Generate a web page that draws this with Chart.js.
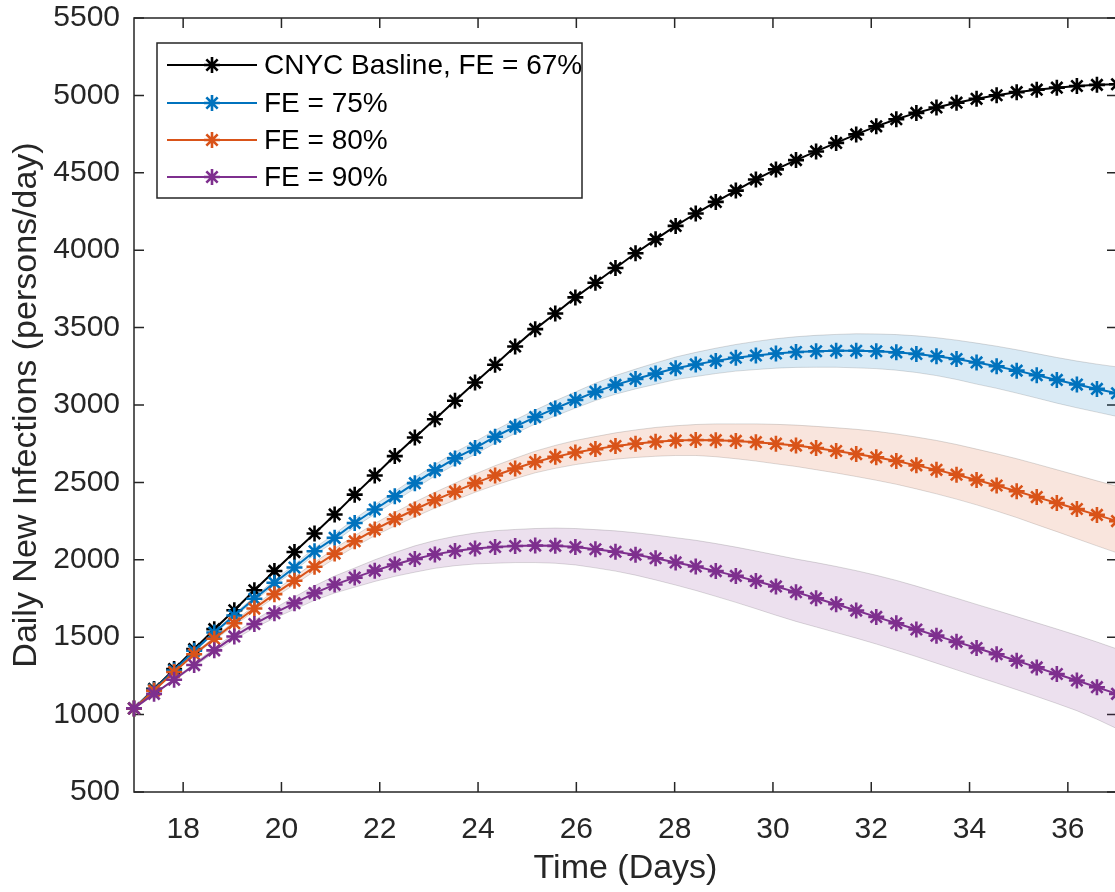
<!DOCTYPE html>
<html>
<head>
<meta charset="utf-8">
<script src="https://cdn.jsdelivr.net/npm/chart.js@4/dist/chart.umd.min.js"></script>
<style>
  html, body { margin: 0; padding: 0; background: #fff; overflow: hidden; width: 1115px; height: 892px; }
  #wrap { width: 1130px; height: 892px; }
</style>
</head>
<body>
<div id="wrap"><canvas id="c" width="1130" height="892"></canvas></div>
<script>
// ---- data ----
const days = [17.000, 17.408, 17.816, 18.224, 18.633, 19.041, 19.449, 19.857, 20.265, 20.673,
              21.082, 21.490, 21.898, 22.306, 22.714, 23.122, 23.531, 23.939, 24.347, 24.755,
              25.163, 25.571, 25.980, 26.388, 26.796, 27.204, 27.612, 28.020, 28.429, 28.837,
              29.245, 29.653, 30.061, 30.469, 30.878, 31.286, 31.694, 32.102, 32.510, 32.918,
              33.327, 33.735, 34.143, 34.551, 34.959, 35.367, 35.776, 36.184, 36.592, 37.000];

const baseline = [1040, 1166, 1294, 1423, 1552, 1674, 1803, 1928, 2050, 2170,
                  2293, 2421, 2545, 2670, 2790, 2908, 3027, 3145, 3260, 3378,
                  3490, 3591, 3695, 3790, 3885, 3980, 4070, 4157, 4237, 4312,
                  4385, 4457, 4522, 4582, 4638, 4693, 4748, 4800, 4846, 4887,
                  4922, 4953, 4978, 5001, 5021, 5037, 5050, 5061, 5068, 5072];

const fe75 = [1040, 1160, 1285, 1412, 1530, 1640, 1748, 1852, 1950, 2055,
              2142, 2238, 2325, 2410, 2495, 2578, 2655, 2722, 2795, 2860,
              2922, 2978, 3032, 3085, 3130, 3168, 3203, 3237, 3262, 3285,
              3305, 3320, 3333, 3342, 3347, 3350, 3350, 3347, 3340, 3330,
              3315, 3297, 3275, 3250, 3222, 3192, 3162, 3132, 3104, 3076];
const fe75Upper = [1040, 1162, 1289, 1418, 1538, 1651, 1762, 1869, 1970, 2077,
                   2167, 2265, 2355, 2442, 2530, 2615, 2695, 2763, 2837, 2904,
                   2967, 3027, 3084, 3141, 3190, 3232, 3272, 3310, 3340, 3367,
                   3391, 3411, 3428, 3441, 3450, 3456, 3460, 3459, 3455, 3447,
                   3435, 3419, 3400, 3380, 3357, 3332, 3307, 3284, 3264, 3246];
const fe75Lower = [1040, 1158, 1281, 1406, 1522, 1629, 1734, 1835, 1930, 2033,
                   2117, 2211, 2295, 2378, 2460, 2541, 2615, 2681, 2753, 2816,
                   2877, 2929, 2980, 3029, 3070, 3104, 3134, 3164, 3184, 3203,
                   3219, 3229, 3238, 3243, 3244, 3244, 3240, 3235, 3225, 3210,
                   3190, 3165, 3135, 3108, 3077, 3045, 3012, 2982, 2954, 2926];

const fe80 = [1040, 1155, 1275, 1390, 1490, 1590, 1685, 1778, 1865, 1955,
              2040, 2120, 2195, 2262, 2325, 2385, 2440, 2495, 2545, 2590,
              2632, 2665, 2693, 2715, 2735, 2750, 2762, 2770, 2774, 2773,
              2768, 2760, 2750, 2738, 2722, 2703, 2683, 2662, 2638, 2610,
              2581, 2550, 2515, 2480, 2443, 2405, 2367, 2328, 2290, 2250];
const fe80Upper = [1040, 1158, 1280, 1398, 1500, 1604, 1703, 1799, 1890, 1984,
                   2073, 2156, 2235, 2306, 2373, 2436, 2495, 2554, 2608, 2656,
                   2702, 2739, 2771, 2796, 2820, 2839, 2855, 2866, 2874, 2878,
                   2878, 2878, 2875, 2870, 2862, 2853, 2843, 2830, 2813, 2793,
                   2771, 2745, 2715, 2685, 2653, 2618, 2582, 2546, 2510, 2475];
const fe80Lower = [1040, 1152, 1270, 1382, 1480, 1576, 1667, 1757, 1840, 1926,
                   2007, 2084, 2155, 2218, 2277, 2334, 2385, 2436, 2482, 2524,
                   2562, 2591, 2615, 2634, 2650, 2661, 2669, 2674, 2674, 2666,
                   2653, 2638, 2620, 2603, 2582, 2561, 2538, 2514, 2488, 2458,
                   2426, 2392, 2355, 2315, 2273, 2227, 2182, 2136, 2090, 2045];

const fe90 = [1040, 1134, 1225, 1320, 1415, 1505, 1585, 1655, 1720, 1785,
              1840, 1885, 1930, 1970, 2005, 2035, 2057, 2073, 2083, 2089,
              2092, 2090, 2082, 2068, 2052, 2033, 2010, 1983, 1957, 1927,
              1896, 1863, 1828, 1791, 1752, 1713, 1672, 1631, 1590, 1550,
              1510, 1470, 1430, 1390, 1348, 1305, 1262, 1220, 1177, 1134];
const fe90Upper = [1040, 1136, 1230, 1330, 1430, 1525, 1610, 1687, 1760, 1832,
                   1895, 1947, 2000, 2047, 2090, 2125, 2152, 2173, 2188, 2196,
                   2202, 2205, 2202, 2195, 2187, 2175, 2160, 2143, 2126, 2105,
                   2082, 2057, 2031, 2005, 1982, 1957, 1930, 1900, 1867, 1830,
                   1791, 1752, 1712, 1673, 1633, 1593, 1553, 1512, 1469, 1424];
const fe90Lower = [1040, 1132, 1220, 1310, 1400, 1485, 1560, 1623, 1680, 1738,
                   1785, 1823, 1860, 1893, 1920, 1945, 1962, 1973, 1978, 1982,
                   1982, 1978, 1967, 1948, 1927, 1901, 1870, 1837, 1802, 1764,
                   1725, 1684, 1642, 1602, 1566, 1530, 1494, 1456, 1416, 1375,
                   1332, 1289, 1246, 1204, 1161, 1117, 1072, 1025, 970, 909];

const seriesLabels = ['CNYC Basline, FE = 67%', 'FE = 75%', 'FE = 80%', 'FE = 90%'];
const xTicks = [18, 20, 22, 24, 26, 28, 30, 32, 34, 36];
const yTicks = [500, 1000, 1500, 2000, 2500, 3000, 3500, 4000, 4500, 5000, 5500];

// ---- styling ----
const FONT = "'Liberation Sans', Arial, Helvetica, sans-serif";
const AXIS_COLOR = '#262626';
const colors = ['#000000', '#0072BD', '#D95319', '#7E2F8E'];
const bandFill = ['rgba(0,114,189,0.15)', 'rgba(217,83,25,0.15)', 'rgba(126,47,142,0.15)'];
const bandEdge = 'rgba(0,0,0,0.14)';

function pts(arr) {
    return days.map((d, i) => ({ x: d, y: arr[i] }));
}

function lineSet(label, arr, color, order) {
    return {
        label: label,
        data: pts(arr),
        borderColor: color,
        backgroundColor: color,
        borderWidth: 2,
        pointStyle: 'star',
        pointRadius: 8,
        pointBorderWidth: 2.6,
        pointBorderColor: color,
        pointBackgroundColor: color,
        tension: 0,
        fill: false,
        clip: false,
        order: order
    };
}

function bandSet(arr, fill, color) {
    return {
        label: '',
        data: pts(arr),
        borderColor: bandEdge,
        borderWidth: 1,
        backgroundColor: color,
        pointRadius: 0,
        tension: 0,
        fill: fill,
        order: 10
    };
}

const datasets = [
    lineSet(seriesLabels[0], baseline, colors[0], 4),
    lineSet(seriesLabels[1], fe75, colors[1], 3),
    lineSet(seriesLabels[2], fe80, colors[2], 2),
    lineSet(seriesLabels[3], fe90, colors[3], 1),
    bandSet(fe75Upper, '+1', bandFill[0]),
    bandSet(fe75Lower, false, bandFill[0]),
    bandSet(fe80Upper, '+1', bandFill[1]),
    bandSet(fe80Lower, false, bandFill[1]),
    bandSet(fe90Upper, '+1', bandFill[2]),
    bandSet(fe90Lower, false, bandFill[2])
];

// axis box with inward ticks on all four sides (MATLAB look)
const axisBox = {
    id: 'axisBox',
    beforeDatasetsDraw(chart) {
        const { ctx, chartArea: a, scales } = chart;
        const tl = 10;
        ctx.save();
        ctx.strokeStyle = AXIS_COLOR;
        ctx.lineWidth = 1.5;
        ctx.strokeRect(a.left, a.top, a.right - a.left, a.bottom - a.top);
        ctx.beginPath();
        scales.x.ticks.forEach(t => {
            const px = scales.x.getPixelForValue(t.value);
            ctx.moveTo(px, a.bottom); ctx.lineTo(px, a.bottom - tl);
            ctx.moveTo(px, a.top); ctx.lineTo(px, a.top + tl);
        });
        scales.y.ticks.forEach(t => {
            const py = scales.y.getPixelForValue(t.value);
            ctx.moveTo(a.left, py); ctx.lineTo(a.left + tl, py);
            ctx.moveTo(a.right, py); ctx.lineTo(a.right - tl, py);
        });
        ctx.stroke();
        ctx.restore();
    }
};

// boxed legend inside the plot, top-left
const boxLegend = {
    id: 'boxLegend',
    afterDraw(chart) {
        const { ctx } = chart;
        const x0 = 157, y0 = 43, w = 425, h = 155;
        const rows = [65, 103, 140, 177];
        ctx.save();
        ctx.fillStyle = '#fff';
        ctx.fillRect(x0, y0, w, h);
        ctx.strokeStyle = AXIS_COLOR;
        ctx.lineWidth = 1.5;
        ctx.strokeRect(x0, y0, w, h);
        ctx.font = '28px ' + FONT;
        ctx.textBaseline = 'middle';
        ctx.textAlign = 'left';
        for (let i = 0; i < 4; i++) {
            const ds = chart.data.datasets[i];
            const yy = rows[i];
            ctx.strokeStyle = ds.borderColor;
            ctx.lineWidth = 2;
            ctx.beginPath();
            ctx.moveTo(167, yy); ctx.lineTo(257, yy);
            ctx.stroke();
            ctx.lineWidth = 2.6;
            Chart.helpers.drawPoint(ctx, {
                pointStyle: 'star', rotation: 0, radius: 8, borderWidth: 2.6
            }, 212, yy);
            ctx.fillStyle = '#000';
            ctx.fillText(ds.label, 264, yy + 1);
        }
        ctx.restore();
    }
};

new Chart(document.getElementById('c'), {
    type: 'line',
    data: { datasets: datasets },
    options: {
        responsive: false,
        animation: false,
        events: [],
        layout: { padding: { left: 0, right: 13, top: 18, bottom: 0 } },
        plugins: {
            legend: { display: false },
            tooltip: { enabled: false }
        },
        scales: {
            x: {
                type: 'linear',
                min: 17,
                max: 37,
                afterBuildTicks: s => { s.ticks = xTicks.map(v => ({ value: v })); },
                afterFit: s => { s.height = 100; s.paddingLeft = 0; s.paddingRight = 0; },
                grid: { display: false, drawTicks: false },
                border: { display: false },
                ticks: {
                    color: AXIS_COLOR,
                    font: { family: FONT, size: 30 },
                    padding: 20,
                    maxRotation: 0,
                    callback: v => String(v)
                },
                title: {
                    display: true,
                    text: 'Time (Days)',
                    color: AXIS_COLOR,
                    font: { family: FONT, size: 34 },
                    padding: { top: 0, bottom: 3 }
                }
            },
            y: {
                type: 'linear',
                min: 500,
                max: 5500,
                afterBuildTicks: s => { s.ticks = yTicks.map(v => ({ value: v })); },
                afterFit: s => { s.width = 134; s.paddingTop = 0; s.paddingBottom = 0; },
                grid: { display: false, drawTicks: false },
                border: { display: false },
                ticks: {
                    color: AXIS_COLOR,
                    font: { family: FONT, size: 30 },
                    padding: 14,
                    callback: v => String(v)
                },
                title: {
                    display: true,
                    text: 'Daily New Infections (persons/day)',
                    color: AXIS_COLOR,
                    font: { family: FONT, size: 34 },
                    padding: { top: 6, bottom: 0 }
                }
            }
        }
    },
    plugins: [axisBox, boxLegend]
});
</script>
</body>
</html>
